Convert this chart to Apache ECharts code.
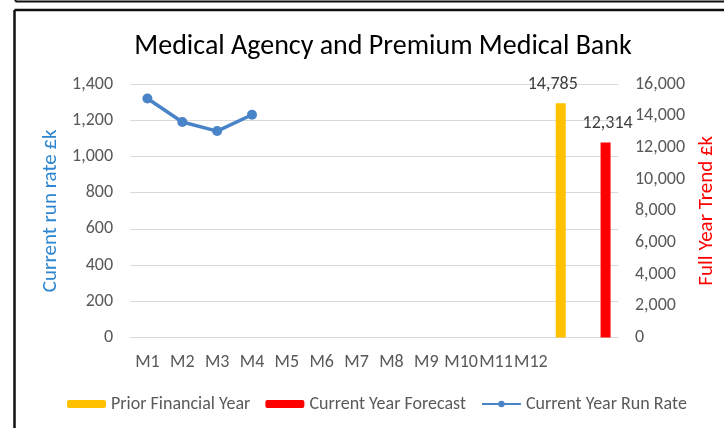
<!DOCTYPE html>
<html>
<head>
<meta charset="utf-8">
<script src="https://cdn.jsdelivr.net/npm/echarts@6/dist/echarts.min.js"></script>
<style>
  html, body { margin: 0; padding: 0; background: #ffffff; }
  #chart { width: 724px; height: 428px; }
</style>
</head>
<body>
<div id="chart"></div>
<script>
// Month categories plus two unlabeled slots for the full-year bars
const categories = ['M1', 'M2', 'M3', 'M4', 'M5', 'M6', 'M7', 'M8', 'M9', 'M10', 'M11', 'M12', '', ''];

// Monthly run rate (£k), only the first four months reported
const runRate = [1320, 1190, 1140, 1230, null, null, null, null, null, null, null, null, null, null];

// Full-year totals (£k) on the secondary axis
const priorYear = [null, null, null, null, null, null, null, null, null, null, null, null, 14785, null];
const currentForecast = [null, null, null, null, null, null, null, null, null, null, null, null, null, 12314];

// Axis ranges
const leftMax = 1400, leftStep = 200;
const rightMax = 16000, rightStep = 2000;

const FONT = 'Carlito, Lato, sans-serif';
const GREY = '#595959';
const fmt = v => v.toLocaleString('en-US');

const chart = echarts.init(document.getElementById('chart'), null, { renderer: 'canvas' });

chart.setOption({
  animation: false,
  backgroundColor: '#ffffff',
  textStyle: { fontFamily: FONT },
  title: {
    text: 'Medical Agency and Premium Medical Bank',
    left: 378,
    textAlign: 'center',
    top: 28,
    textStyle: { fontFamily: FONT, fontSize: 28, fontWeight: 'normal', color: '#000000' }
  },
  legend: {
    left: 62,
    top: 390,
    itemWidth: 39,
    itemHeight: 8,
    itemGap: 15,
    textStyle: { fontFamily: FONT, fontSize: 18, color: GREY },
    data: ['Prior Financial Year', 'Current Year Forecast', 'Current Year Run Rate']
  },
  grid: { left: 130, right: 106, top: 84, bottom: 90.5, outerBoundsMode: 'none' },
  xAxis: {
    type: 'category',
    data: categories,
    boundaryGap: true,
    axisLine: { show: true, lineStyle: { color: '#d9d9d9' } },
    axisTick: { show: false },
    axisLabel: { interval: 0, margin: 16, fontFamily: FONT, fontSize: 18, color: GREY }
  },
  yAxis: [
    {
      type: 'value',
      min: 0, max: leftMax, interval: leftStep,
      name: 'Current run rate £k',
      nameLocation: 'middle',
      nameRotate: 90,
      nameGap: 64,
      nameTextStyle: { fontFamily: FONT, fontSize: 21, color: '#2e86d0' },
      axisLine: { show: false },
      axisTick: { show: false },
      axisLabel: { margin: 17, fontFamily: FONT, fontSize: 18, color: GREY, formatter: fmt },
      splitLine: { show: true, lineStyle: { color: '#d9d9d9', width: 1 } }
    },
    {
      type: 'value',
      position: 'right',
      min: 0, max: rightMax, interval: rightStep,
      name: 'Full Year Trend £k',
      nameLocation: 'middle',
      nameRotate: 90,
      nameGap: 75,
      nameTextStyle: { fontFamily: FONT, fontSize: 21, color: '#ff0000' },
      axisLine: { show: false },
      axisTick: { show: false },
      axisLabel: { margin: 17, fontFamily: FONT, fontSize: 18, color: GREY, formatter: fmt },
      splitLine: { show: false }
    }
  ],
  series: [
    {
      name: 'Prior Financial Year',
      type: 'bar',
      yAxisIndex: 1,
      data: priorYear,
      barWidth: 10,
      barGap: '0%',
      itemStyle: { color: '#ffc000' },
      label: {
        show: true, position: 'top', distance: 10, offset: [-8, 0],
        fontFamily: FONT, fontSize: 18, color: '#404040',
        formatter: p => fmt(p.value)
      }
    },
    {
      name: 'Current Year Forecast',
      type: 'bar',
      yAxisIndex: 1,
      data: currentForecast,
      barWidth: 10,
      barGap: '0%',
      itemStyle: { color: '#ff0000' },
      label: {
        show: true, position: 'top', distance: 10, offset: [2, 0],
        fontFamily: FONT, fontSize: 18, color: '#404040',
        formatter: p => fmt(p.value)
      }
    },
    {
      name: 'Current Year Run Rate',
      type: 'line',
      yAxisIndex: 0,
      data: runRate,
      symbol: 'circle',
      symbolSize: 10,
      lineStyle: { color: '#4a84c8', width: 3.5 },
      itemStyle: { color: '#4a84c8' },
      z: 5
    }
  ],
  graphic: [
    // upper frame edge
    { type: 'line', shape: { x1: 15.5, y1: -2, x2: 15.5, y2: 1.5 }, style: { stroke: '#111', lineWidth: 2 } },
    { type: 'line', shape: { x1: 15.5, y1: 1.5, x2: 730, y2: 1.5 }, style: { stroke: '#111', lineWidth: 2 } },
    // chart frame
    { type: 'line', shape: { x1: 14.5, y1: 10, x2: 730, y2: 10 }, style: { stroke: '#111', lineWidth: 2.5 } },
    { type: 'line', shape: { x1: 14.5, y1: 10, x2: 14.5, y2: 440 }, style: { stroke: '#111', lineWidth: 2.5 } }
  ]
});
</script>
</body>
</html>
